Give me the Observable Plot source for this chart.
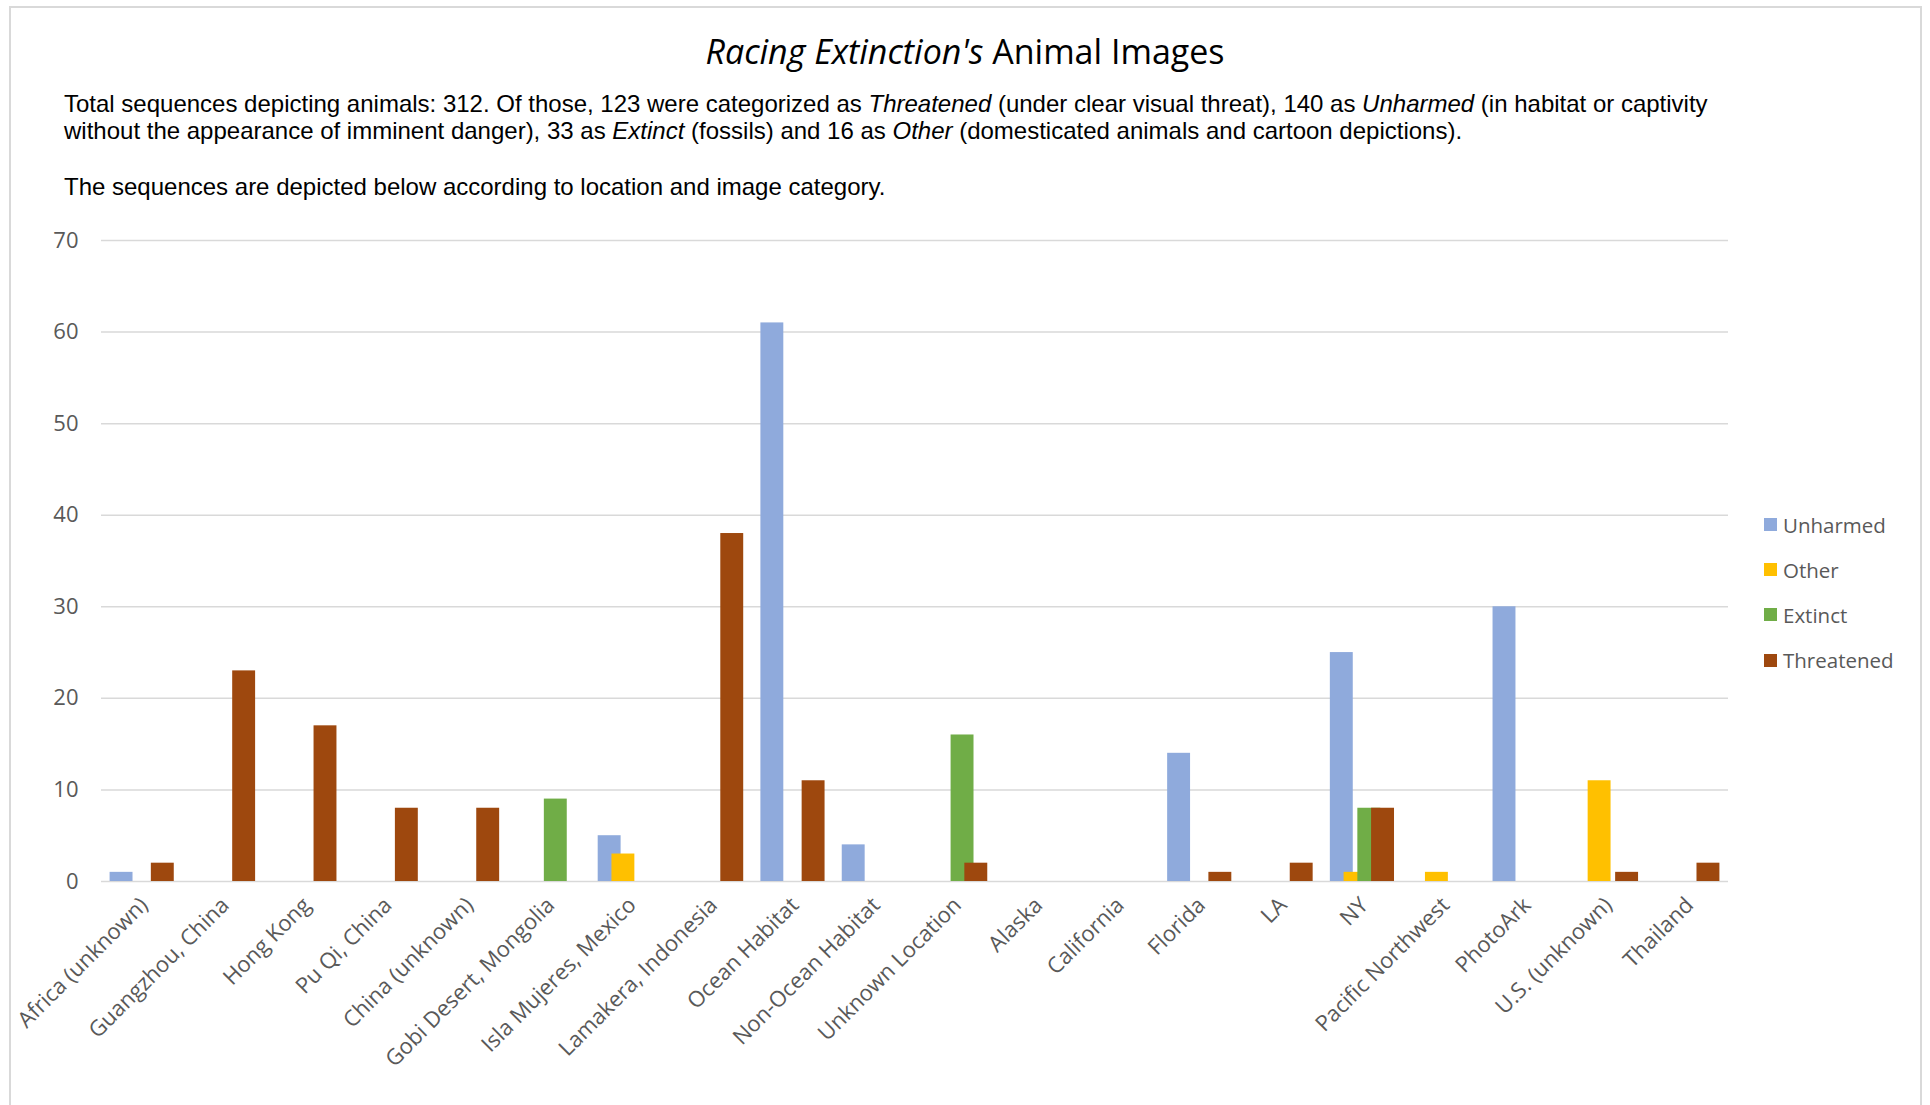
<!DOCTYPE html>
<html><head><meta charset="utf-8">
<script src="https://cdn.jsdelivr.net/npm/d3@7"></script>
<script src="https://cdn.jsdelivr.net/npm/@observablehq/plot@0.6"></script>
<style>
html,body{margin:0;padding:0;background:#fff;overflow:hidden;}
#wrap{position:relative;width:1930px;height:1105px;overflow:hidden;background:#fff;}
#frame{position:absolute;left:9px;top:6px;width:1913px;height:1200px;border:2px solid #d9d9d9;box-sizing:border-box;}
#title{position:absolute;left:0;width:1930px;top:30px;text-align:center;font-family:"Open Sans",sans-serif;font-size:34px;line-height:42px;color:#000;}
.sub{position:absolute;left:64px;font-family:"Liberation Sans",Arial,sans-serif;font-size:24px;line-height:27px;color:#000;white-space:nowrap;}
#chart{position:absolute;left:0;top:200px;}
#legend{position:absolute;left:1764px;top:502px;font-family:"Open Sans",sans-serif;font-size:20.5px;color:#595959;}
.li{height:45.2px;display:flex;align-items:center;}
.sw{width:13px;height:13px;margin-right:6px;}
</style>
</head><body>
<div id="wrap">
<div id="frame"></div>
<div id="title"><i>Racing Extinction's</i> Animal Images</div>
<div class="sub" style="top:90px">Total sequences depicting animals: 312. Of those, 123 were categorized as <i>Threatened</i> (under clear visual threat), 140 as <i>Unharmed</i> (in habitat or captivity</div>
<div class="sub" style="top:117px">without the appearance of imminent danger), 33 as <i>Extinct</i> (fossils) and 16 as <i>Other</i> (domesticated animals and cartoon depictions).</div>
<div class="sub" style="top:173px">The sequences are depicted below according to location and image category.</div>
<div id="chart"></div>
<div id="legend"></div>
</div>
<script>
const locations = ["Africa (unknown)","Guangzhou, China","Hong Kong","Pu Qi, China","China (unknown)","Gobi Desert, Mongolia","Isla Mujeres, Mexico","Lamakera, Indonesia","Ocean Habitat","Non-Ocean Habitat","Unknown Location","Alaska","California","Florida","LA","NY","Pacific Northwest","PhotoArk","U.S. (unknown)","Thailand"];
const seriesNames = ["Unharmed","Other","Extinct","Threatened"];
const unharmed   = [1,0,0,0,0,0,5,0,61,4,0,0,0,14,0,25,0,30,0,0];
const other      = [0,0,0,0,0,0,3,0,0,0,0,0,0,0,0,1,1,0,11,0];
const extinct    = [0,0,0,0,0,9,0,0,0,0,16,0,0,0,0,8,0,0,0,0];
const threatened = [2,23,17,8,8,0,0,38,11,0,2,0,0,1,2,8,0,0,1,2];
const yTicks = [0,10,20,30,40,50,60,70];
const colors = ["#8FAADC","#FFC000","#70AD47","#9E480E"];

const seriesValues = [unharmed, other, extinct, threatened];
const rows = [];
seriesValues.forEach((vals, k) => vals.forEach((v, i) => {
  if (v > 0) rows.push({loc: i, k, series: seriesNames[k], value: v});
}));

// Excel-like clustered columns: gap width 75%, overlap 40%
const W = 1 / (4 - 3 * 0.4 + 0.75);
const STEP = W * 0.6;
const GAP = 1 - (3 * STEP + W);

const chart = Plot.plot({
  width: 1930, height: 900,
  marginLeft: 101, marginRight: 202, marginTop: 40, marginBottom: 219,
  style: {fontFamily: "Open Sans, sans-serif", fontSize: "22px", color: "#595959", background: "transparent"},
  x: {domain: [-0.5, locations.length - 0.5], axis: null},
  y: {domain: [0, 70], axis: null},
  color: {domain: seriesNames, range: colors},
  marks: [
    Plot.gridY(yTicks, {stroke: "#d9d9d9", strokeOpacity: 1, strokeWidth: 1.5}),
    Plot.axisY(yTicks, {tickSize: 0, tickPadding: 23, fill: "#595959", fontSize: 22, label: null}),
    Plot.rectY(rows, {
      x1: d => d.loc - 0.5 + GAP / 2 + d.k * STEP,
      x2: d => d.loc - 0.5 + GAP / 2 + d.k * STEP + W,
      y1: 0, y2: "value", fill: "series"
    }),
    Plot.axisX(d3.range(locations.length), {
      tickSize: 0, tickPadding: 20, tickRotate: -45, dx: 2,
      tickFormat: i => locations[i], fill: "#595959", fontSize: 22, label: null
    })
  ]
});
document.getElementById("chart").appendChild(chart);

const legend = document.getElementById("legend");
seriesNames.forEach((s, k) => {
  const row = document.createElement("div");
  row.className = "li";
  const sw = document.createElement("span");
  sw.className = "sw"; sw.style.background = colors[k];
  const t = document.createElement("span");
  t.textContent = s;
  row.appendChild(sw); row.appendChild(t);
  legend.appendChild(row);
});
</script>
</body></html>
